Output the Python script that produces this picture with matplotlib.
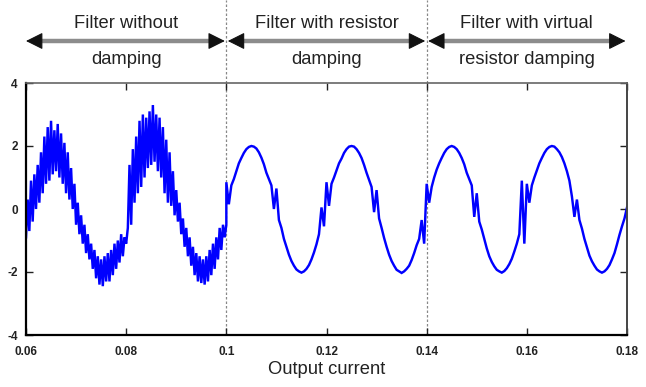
import numpy as np
import matplotlib
matplotlib.use("Agg")
import matplotlib.pyplot as plt
import matplotlib.transforms as mtransforms
from matplotlib import font_manager

# ---------------- data ----------------
# Section 1: filter without damping, t = 0.06 .. 0.10 (121 samples)
t1_start, t1_end = 0.06, 0.10
i_nodamp = [
    -0.9, 0.3, -0.7, 0.9, -0.4, 1.1, 0.0, 1.4, 0.2, 1.8,
    0.5, 2.3, 0.8, 2.6, 0.9, 2.8, 1.1, 2.5, 1.2, 2.7,
    1.0, 2.4, 0.8, 2.1, 0.5, 1.8, 0.3, 1.3, 0.0, 0.8,
    -0.5, 0.2, -0.8, -0.2, -1.1, -0.5, -1.4, -0.8, -1.6, -1.1,
    -1.9, -1.3, -2.2, -1.5, -2.4, -1.6, -2.45, -1.5, -2.3, -1.4,
    -2.3, -1.3, -2.1, -1.1, -1.9, -1.0, -1.7, -0.8, -1.5, -0.9,
    -1.1, -0.6, 1.4, -0.5, 1.9, 0.2, 2.3, 0.5, 2.8, 0.7,
    3.0, 1.0, 2.9, 1.3, 3.1, 1.4, 3.3, 1.5, 3.0, 1.2,
    2.9, 1.0, 2.6, 0.5, 2.2, 0.2, 1.8, 0.1, 1.2, -0.2,
    0.6, -0.4, 0.2, -0.8, -0.3, -1.2, -0.6, -1.5, -0.9, -1.8,
    -1.2, -2.1, -1.4, -2.3, -1.5, -2.35, -1.6, -2.4, -1.5, -2.3,
    -1.3, -2.1, -1.1, -1.9, -0.9, -1.6, -0.6, -1.3, -0.5, -0.9,
    -0.5,
]
# Sections 2 and 3: resistor damping / virtual resistor damping, t = 0.10 .. 0.18 (161 samples)
t2_start, t2_end = 0.10, 0.18
i_damped = [
    # 0.100 - 0.1195
    0.85, 0.15, 0.75, 0.95, 1.2, 1.45, 1.62, 1.78, 1.9, 1.97,
    2.0, 1.98, 1.92, 1.8, 1.63, 1.42, 1.15, 0.95, 0.75, 0.0,
    0.65, -0.35, -0.6, -0.95, -1.2, -1.45, -1.65, -1.8, -1.92, -1.98,
    -2.02, -1.98, -1.9, -1.78, -1.6, -1.38, -1.12, -0.8, 0.05, -0.55,
    # 0.120 - 0.1395
    0.85, 0.1, 0.8, 1.0, 1.22, 1.45, 1.6, 1.78, 1.9, 1.98,
    2.0, 1.98, 1.9, 1.78, 1.62, 1.4, 1.15, 0.92, 0.7, -0.1,
    0.6, -0.3, -0.6, -0.92, -1.2, -1.45, -1.65, -1.8, -1.93, -1.98,
    -2.03, -1.98, -1.9, -1.8, -1.62, -1.4, -1.15, -0.95, -0.35, -1.1,
    # 0.140 - 0.1595
    0.8, 0.2, 0.7, 1.0, 1.25, 1.45, 1.62, 1.78, 1.9, 1.97,
    2.0, 1.97, 1.9, 1.78, 1.62, 1.42, 1.15, 0.95, 0.75, -0.25,
    0.5, -0.4, -0.65, -0.95, -1.25, -1.5, -1.68, -1.82, -1.93, -1.98,
    -2.02, -1.97, -1.88, -1.75, -1.58, -1.35, -1.1, -0.8, 0.9, -1.1,
    # 0.160 - 0.180
    0.8, 0.2, 0.75, 1.0, 1.22, 1.45, 1.62, 1.78, 1.9, 1.97,
    2.0, 1.98, 1.9, 1.8, 1.65, 1.45, 1.2, 0.9, 0.4, -0.25,
    0.3, -0.35, -0.62, -0.95, -1.22, -1.48, -1.66, -1.8, -1.92, -1.98,
    -2.02, -1.98, -1.9, -1.78, -1.6, -1.4, -1.12, -0.82, -0.55, -0.3,
    0.05,
]
section_bounds = [0.06, 0.10, 0.14, 0.18]
section_labels = ["Filter without\ndamping", "Filter with resistor\ndamping",
                  "Filter with virtual\nresistor damping"]
x_ticks = [0.06, 0.08, 0.10, 0.12, 0.14, 0.16, 0.18]
x_ticklabels = ["0.06", "0.08", "0.1", "0.12", "0.14", "0.16", "0.18"]
y_ticks = [-4, -2, 0, 2, 4]
y_ticklabels = ["-4", "-2", "0", "2", "4"]
x_label = "Output current"

# ---------------- fonts ----------------
names = {f.name for f in font_manager.fontManager.ttflist}
narrow = "Liberation Sans Narrow" if "Liberation Sans Narrow" in names else "Liberation Sans"
plt.rcParams["font.family"] = [narrow, "DejaVu Sans"]
txt_size = 15.5 if narrow == "Liberation Sans Narrow" else 13.2

# ---------------- figure ----------------
fig = plt.figure(figsize=(6.46, 3.87), dpi=100)
ax = fig.add_axes([26 / 646, 52 / 387, 601 / 646, 252 / 387])

t1 = np.linspace(t1_start, t1_end, len(i_nodamp))
t2 = np.linspace(t2_start, t2_end, len(i_damped))
t_all = np.concatenate([t1, t2])
i_all = np.concatenate([i_nodamp, i_damped])
ax.plot(t_all, i_all, color="#0000ff", lw=1.75, solid_joinstyle="miter")

ax.set_xlim(0.06, 0.18)
ax.set_ylim(-4, 4)
ax.set_xticks(x_ticks)
ax.set_xticklabels(x_ticklabels, fontsize=8.5, fontweight="bold", color="#111111")
ax.set_yticks(y_ticks)
ax.set_yticklabels(y_ticklabels, fontsize=8.5, fontweight="bold", color="#111111")
ax.tick_params(direction="in", length=5, width=1, top=True, right=True,
               colors="#222222", pad=8)
ax.tick_params(axis="y", pad=6)
for side, c, lw in [("left", "#000000", 1.6), ("bottom", "#000000", 1.6),
                    ("top", "#666666", 1.2), ("right", "#444444", 1.4)]:
    ax.spines[side].set_color(c)
    ax.spines[side].set_linewidth(lw)

# dashed dividers (extend to top of figure)
ymax_ax = (1.0 - 52 / 387) / (252 / 387)
for xb in section_bounds[1:-1]:
    ax.axvline(xb, ymin=0, ymax=ymax_ax, color="#888888", lw=0.9,
               ls=(0, (2.0, 1.6)), clip_on=False, zorder=0)

# annotations: arrows and labels
blend = mtransforms.blended_transform_factory(ax.transData, fig.transFigure)
arrow_y = 1 - 41 / 387
gap = 0.0003
for k in range(3):
    xa, xb = section_bounds[k] + (gap if k > 0 else 0), section_bounds[k + 1] - gap
    ax.plot([xa + 0.002, xb - 0.002], [arrow_y, arrow_y], transform=blend,
            color="#8c8c8c", lw=3.2, solid_capstyle="butt", clip_on=False)
    for tip, tail in [(xa, xa + 0.003), (xb, xb - 0.003)]:
        ax.annotate("", xy=(tip, arrow_y), xycoords=blend,
                    xytext=(tail, arrow_y), textcoords=blend,
                    arrowprops=dict(arrowstyle="-|>,head_length=1.0,head_width=0.5",
                                    color="#111111", lw=0.8, shrinkA=0, shrinkB=0,
                                    mutation_scale=10.5),
                    annotation_clip=False)
    line1, line2 = section_labels[k].split("\n")
    xc = (section_bounds[k] + section_bounds[k + 1]) / 2
    ax.text(xc, 1 - 23 / 387, line1, transform=blend, ha="center", va="center",
            fontsize=txt_size, color="#222222", clip_on=False)
    ax.text(xc, 1 - 59 / 387, line2, transform=blend, ha="center", va="center",
            fontsize=txt_size, color="#222222", clip_on=False)

fig.text((26 + 627) / 2 / 646, 1 - 369 / 387, x_label, ha="center", va="center",
         fontsize=txt_size, color="#222222")

fig.savefig("out.png", dpi=100)
